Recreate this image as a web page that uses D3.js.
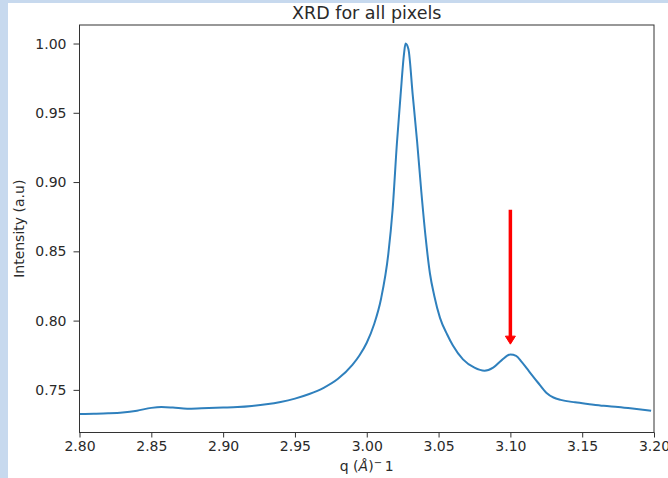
<!DOCTYPE html>
<html>
<head>
<meta charset="utf-8">
<script src="https://cdn.jsdelivr.net/npm/d3@7"></script>
<style>
  html, body { margin: 0; padding: 0; background: #ffffff; }
  svg { display: block; font-family: "DejaVu Sans", sans-serif; }
</style>
</head>
<body>
<svg id="chart" width="668" height="478"></svg>
<script>
// ---- data ----
const qValues = [2.800, 2.810, 2.820, 2.830, 2.840, 2.850, 2.857, 2.865, 2.875, 2.885,
  2.900, 2.910, 2.920, 2.930, 2.940, 2.950, 2.960, 2.970, 2.980, 2.990,
  2.995, 3.000, 3.005, 3.010, 3.015, 3.018, 3.021, 3.0235, 3.026, 3.027,
  3.029, 3.032, 3.035, 3.038, 3.041, 3.044, 3.047, 3.051, 3.056, 3.060,
  3.067, 3.075, 3.082, 3.088, 3.094, 3.100, 3.104, 3.108, 3.113, 3.119,
  3.125, 3.130, 3.135, 3.145, 3.155, 3.165, 3.175, 3.185, 3.198];
const intensity = [0.7326, 0.7328, 0.7331, 0.7337, 0.7350, 0.7370, 0.7376, 0.7372, 0.7364, 0.7367,
  0.7372, 0.7376, 0.7384, 0.7396, 0.7413, 0.7437, 0.7470, 0.7515, 0.7580, 0.7680,
  0.7750, 0.7840, 0.7970, 0.8160, 0.8480, 0.8800, 0.9280, 0.9620, 0.9930, 1.0000,
  0.9960, 0.9630, 0.9300, 0.8930, 0.8600, 0.8340, 0.8180, 0.8020, 0.7900, 0.7820,
  0.7720, 0.7660, 0.7638, 0.7660, 0.7715, 0.7755, 0.7745, 0.7700, 0.7634, 0.7555,
  0.7480, 0.7445, 0.7428, 0.7410, 0.7397, 0.7385, 0.7376, 0.7365, 0.7349];
const xTicks = [2.80, 2.85, 2.90, 2.95, 3.00, 3.05, 3.10, 3.15, 3.20];
const yTicks = [0.75, 0.80, 0.85, 0.90, 0.95, 1.00];
const arrowQ = [3.10, 3.10];
const arrowI = [0.880, 0.783];
const titleText = "XRD for all pixels";
const yLabelText = "Intensity (a.u)";

// ---- layout ----
const svg = d3.select("#chart");
const W = 668, H = 478;
const L = 79.5, R = 654, T = 25, B = 432.5;

// background strips
svg.append("rect").attr("x", 0).attr("y", 0).attr("width", W).attr("height", 3).attr("fill", "#c7d9ee");
svg.append("rect").attr("x", 0).attr("y", 0).attr("width", 8).attr("height", H).attr("fill", "#c7d9ee");

const x = d3.scaleLinear().domain([2.80, 3.20]).range([L, R]);
const yMin = 0.7326, yMax = 1.0;
const pad = (yMax - yMin) * 0.05;
const y = d3.scaleLinear().domain([yMin - pad, yMax + pad]).range([B, T]);

const fontSize = 14;
const textColor = "#2a2a2a";

// axes
const xAxis = d3.axisBottom(x).tickValues(xTicks).tickFormat(d3.format(".2f")).tickSize(5).tickPadding(4);
const yAxis = d3.axisLeft(y).tickValues(yTicks).tickFormat(d3.format(".2f")).tickSize(6).tickPadding(7);

const gx = svg.append("g").attr("transform", `translate(0,${B})`).call(xAxis);
const gy = svg.append("g").attr("transform", `translate(${L},0)`).call(yAxis);
[gx, gy].forEach(g => {
  g.select(".domain").remove();
  g.selectAll(".tick line").attr("stroke", "#333").attr("stroke-width", 1);
  g.selectAll(".tick text").attr("fill", textColor).style("font-size", fontSize + "px")
    .style("font-family", "DejaVu Sans, sans-serif");
});

// line
const data = qValues.map((q, i) => ({ q, v: intensity[i] }));
const line = d3.line().x(d => x(d.q)).y(d => y(d.v)).curve(d3.curveMonotoneX);
svg.append("path").datum(data).attr("d", line)
  .attr("fill", "none").attr("stroke", "#2f80bd").attr("stroke-width", 2)
  .attr("stroke-linejoin", "round").attr("stroke-linecap", "butt");

// frame
svg.append("rect").attr("x", L).attr("y", T).attr("width", R - L).attr("height", B - T)
  .attr("fill", "none").attr("stroke", "#333").attr("stroke-width", 1);

// arrow
const ax = x(arrowQ[0]), ay0 = y(arrowI[0]), ay1 = y(arrowI[1]);
const headLen = 8, headW = 10;
svg.append("line").attr("x1", ax).attr("x2", ax).attr("y1", ay0).attr("y2", ay1 - headLen + 1)
  .attr("stroke", "#ff0000").attr("stroke-width", 3.5);
svg.append("path")
  .attr("d", `M${ax - headW / 2},${ay1 - headLen} L${ax + headW / 2},${ay1 - headLen} L${ax},${ay1} Z`)
  .attr("fill", "#ff0000").attr("stroke", "#ff0000").attr("stroke-width", 1).attr("stroke-linejoin", "round");

// title
svg.append("text").attr("x", (L + R) / 2).attr("y", 19).attr("text-anchor", "middle")
  .attr("fill", textColor).style("font-size", "17.5px").text(titleText);

// y label
svg.append("text").attr("transform", `translate(24,${(T + B) / 2}) rotate(-90)`)
  .attr("text-anchor", "middle").attr("fill", textColor).style("font-size", fontSize + "px").text(yLabelText);

// x label: q (Å)⁻ 1 (mathtext style)
const xl = svg.append("text").attr("x", (L + R) / 2).attr("y", 471).attr("text-anchor", "middle")
  .attr("fill", textColor).style("font-size", fontSize + "px");
xl.append("tspan").text("q (");
xl.append("tspan").style("font-style", "italic").text("Å");
xl.append("tspan").text(")");
xl.append("tspan").attr("dy", -5).style("font-size", "10px").text("\u2212");
xl.append("tspan").attr("dy", 5).text("\u20091");
</script>
</body>
</html>
